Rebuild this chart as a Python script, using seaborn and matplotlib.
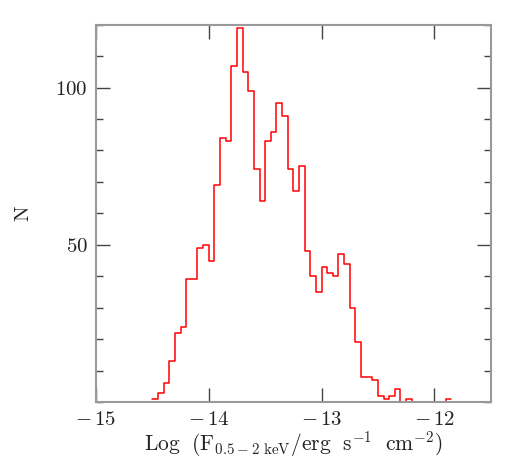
import seaborn as sns
import matplotlib.pyplot as plt
import numpy as np
import pandas as pd
from matplotlib.ticker import MultipleLocator, FixedLocator, FuncFormatter

# histogram: left bin edges (width 0.05 dex) and counts
bin_start = -14.50
bin_width = 0.05
counts = [1, 3, 6, 13, 22, 24, 39, 39, 49, 50,
          45, 69, 84, 83, 107, 119, 105, 99, 74, 64,
          83, 86, 95, 91, 74, 67, 75, 48, 40, 35,
          43, 41, 40, 47, 44, 30, 19, 8, 8, 7,
          2, 1, 2, 4, 0, 1, 0, 0, 0, 0,
          0, 0, 1]
x_ticks = [-15, -14, -13, -12]
y_ticks = [50, 100]

edges = np.round(bin_start + bin_width * np.arange(len(counts) + 1), 3)
df = pd.DataFrame({"logf": edges[:-1] + bin_width / 2, "n": counts})

sns.set_style("ticks")
plt.rcParams["font.family"] = ["DejaVu Serif"]
plt.rcParams["mathtext.fontset"] = "cm"


def tick_fmt(v, pos):
    # wide minus like the original plotting package
    if v < 0:
        return r"$-\,%d$" % abs(round(v))
    return r"$%d$" % round(v)


fig = plt.figure(figsize=(5.18, 4.58), dpi=100)
ax = fig.add_axes([0.1853, 0.1223, 0.762, 0.8237])

sns.histplot(data=df, x="logf", weights="n", bins=list(edges), element="step",
             fill=False, color="red", linewidth=1.1, ax=ax)

ax.set_xlim(-15, -11.5)
ax.set_ylim(0, 120)
ax.xaxis.set_major_locator(FixedLocator(x_ticks))
ax.yaxis.set_major_locator(FixedLocator(y_ticks))
ax.yaxis.set_minor_locator(MultipleLocator(10))
ax.xaxis.set_major_formatter(FuncFormatter(tick_fmt))
ax.yaxis.set_major_formatter(FuncFormatter(tick_fmt))

ax.tick_params(which="both", direction="in", top=True, right=True,
               color="#444444", width=1.0, labelsize=15, pad=6,
               labelcolor="#222222")
ax.tick_params(which="major", length=10)
ax.tick_params(which="minor", length=5)
for s in ax.spines.values():
    s.set_color("#999999")
    s.set_linewidth(1.5)

ax.set_xlabel(r"$\mathrm{Log\ \ (F_{0.5-2\ keV}/erg\ \ s^{-1}\ \ cm^{-2})}$",
              fontsize=15.5, labelpad=0, color="#222222")
ax.set_ylabel(r"$\mathrm{N}$", fontsize=15, labelpad=16, color="#222222")

fig.savefig("out.png", dpi=100)
